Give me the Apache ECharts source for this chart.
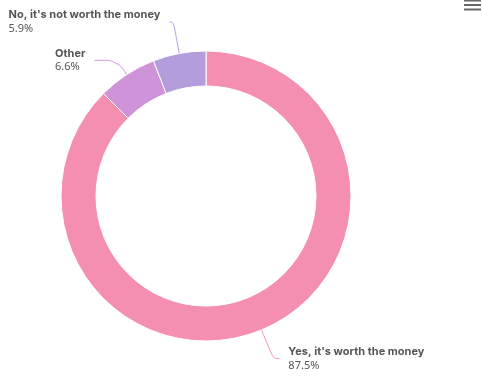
<!DOCTYPE html>
<html><head><meta charset="utf-8">
<style>html,body{margin:0;padding:0;background:#fff}#c{width:482px;height:386px}</style>
<script src="https://cdn.jsdelivr.net/npm/echarts@6/dist/echarts.min.js"></script>
</head><body><div id="c"></div>
<script>
const categories = ["Yes, it's worth the money", "Other", "No, it's not worth the money"];
const values = [87.5, 6.6, 5.9];
const colors = ['#f48fb1', '#ce93d8', '#b39ddb'];

// connector geometry per slice (styling, not data)
const connectorStyle = [
  {length: 31, length2: 6},
  {length: 17, length2: 23},
  {length: 32, length2: 4}
];

const chart = echarts.init(document.getElementById('c'), null, {renderer: 'canvas'});
chart.setOption({
  animation: false,
  color: colors,
  graphic: [
    {type: 'rect', shape: {x: 464, y: 0, width: 17, height: 1.5}, style: {fill: '#666'}},
    {type: 'rect', shape: {x: 464, y: 4, width: 17, height: 2}, style: {fill: '#666'}},
    {type: 'rect', shape: {x: 464, y: 8.5, width: 17, height: 2}, style: {fill: '#666'}}
  ],
  series: [{
    type: 'pie',
    center: [206, 196],
    radius: [110, 145],
    startAngle: 90,
    clockwise: true,
    avoidLabelOverlap: false,
    itemStyle: {borderColor: '#fff', borderWidth: 1},
    label: {
      show: true,
      position: 'outside',
      formatter: '{n|{b}}\n{p|{d}%}',
      rich: {
        n: {fontSize: 11, fontWeight: 'bold', color: '#555', fontFamily: 'Inter', lineHeight: 14, align: 'left'},
        p: {fontSize: 11, color: '#555', fontFamily: 'Noto Sans', lineHeight: 14, align: 'left'}
      },
      distanceToLabelLine: 9
    },
    labelLine: {show: true, smooth: 0.4, lineStyle: {width: 1}},
    data: categories.map((c, i) => ({name: c, value: values[i], labelLine: connectorStyle[i]}))
  }]
});
</script></body></html>
